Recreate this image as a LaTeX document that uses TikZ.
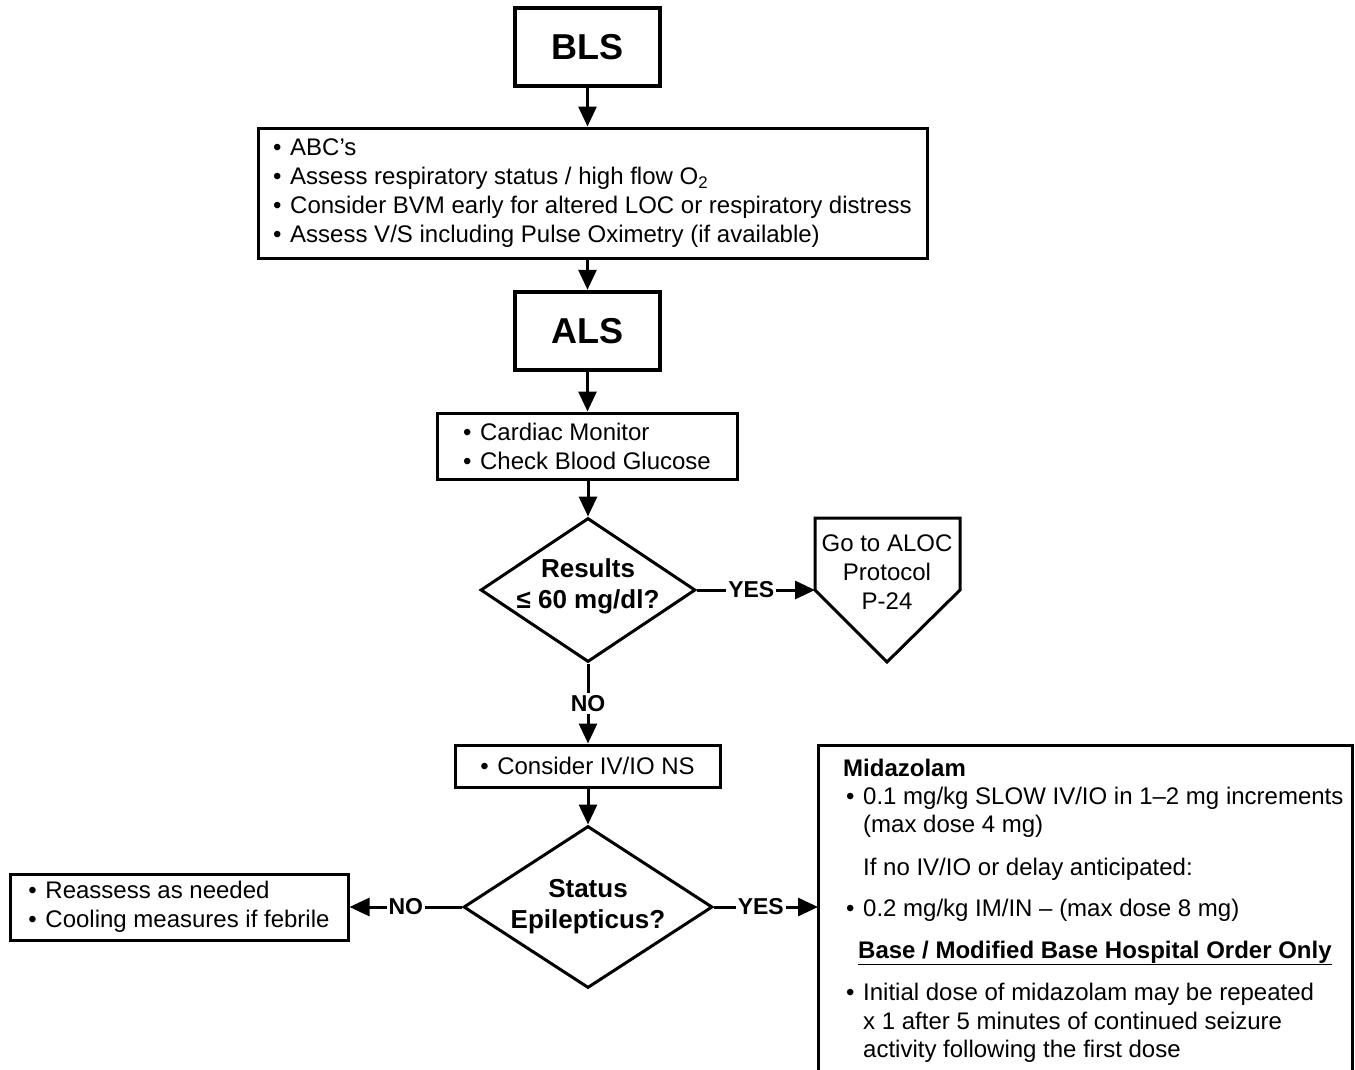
\documentclass[tikz,border=0pt]{standalone}
\usepackage{fontspec}
\setmainfont{Liberation Sans}
\usetikzlibrary{arrows.meta,shapes.geometric}
\newcommand\bul{\makebox[17pt][l]{\textbullet}}
\begin{document}
\begin{tikzpicture}[x=1pt,y=-1pt,
  txt/.style={font=\fontsize{24}{29}\selectfont},
  thickbox/.style={draw, line width=4.5pt, minimum width=145pt, minimum height=78pt,
    inner sep=0pt, font=\bfseries\fontsize{36}{40}\selectfont},
  box/.style={draw, line width=3pt, align=left, inner ysep=4pt, txt},
  decision/.style={draw, diamond, line width=3pt, inner sep=0pt},
  dtext/.style={align=center, font=\bfseries\fontsize{26}{31}\selectfont},
  arr/.style={line width=3pt, -{Triangle[length=20pt,width=18pt]}},
  lab/.style={fill=white, inner sep=2pt, font=\bfseries\fontsize{23}{26}\selectfont},
  mline/.style={inner sep=0pt, anchor=base west, txt}]
\useasboundingbox (0,0) rectangle (1355,1069);
\fill[white] (0,0) rectangle (1355,1069);

\node[thickbox] (bls) at (587.5,47) {BLS};
\node[box, minimum width=669pt, minimum height=130pt] (abc) at (592.5,193)
  {\bul ABC’s\\
   \bul Assess respiratory status / high flow O\textsubscript{2}\\
   \bul Consider BVM early for altered LOC or respiratory distress\\
   \bul Assess V/S including Pulse Oximetry (if available)};
\node[thickbox] (als) at (587.5,331) {ALS};
\node[box, minimum width=300pt, minimum height=66pt] (card) at (587,446)
  {\bul Cardiac Monitor\\ \bul Check Blood Glucose};
\node[decision, minimum width=215pt, minimum height=144pt] (res) at (588,590) {};
\node[dtext] (restext) at (588,586) {Results\\≤ 60 mg/dl?};

\draw[line width=3pt, line join=miter] (815,518) -- (960,518) -- (960,590) -- (887,662) -- (815,590) -- cycle;
\coordinate (alocL) at (815,590);
\node[txt, align=center] (aloc) at (887,572) {Go to ALOC\\Protocol\\P-24};

\node[box, minimum width=265pt, minimum height=42pt] (cons) at (587.5,766)
  {\bul Consider IV/IO NS};
\node[decision, minimum width=249pt, minimum height=162pt] (stat) at (588,907) {};
\node[dtext] (stattext) at (588,907) {Status\\Epilepticus?};

\node[box, minimum width=338pt, minimum height=66pt] (reas) at (179,907)
  {\bul Reassess as needed\\ \bul Cooling measures if febrile};

\draw[line width=3pt] (818,1080) -- (818,745) -- (1352,745) -- (1352,1080);
\coordinate (midL) at (818,907);
\node[mline] (m1) at (843,776) {\bfseries Midazolam};
\node[mline] (m2) at (846,804) {\bul 0.1 mg/kg SLOW IV/IO in 1–2 mg increments};
\node[mline] (m3) at (863,832) {(max dose 4 mg)};
\node[mline] (m4) at (863,875) {If no IV/IO or delay anticipated:};
\node[mline] (m5) at (846,916) {\bul 0.2 mg/kg IM/IN – (max dose 8 mg)};
\node[mline] (m6) at (858,958) {\bfseries\underline{Base / Modified Base Hospital Order Only}};
\node[mline] (m7) at (846,1000) {\bul Initial dose of midazolam may be repeated};
\node[mline] (m8) at (863,1029) {x 1 after 5 minutes of continued seizure};
\node[mline] (m9) at (863,1057) {activity following the first dose};

\draw[arr] (bls.south) -- (bls.south |- abc.north);
\draw[arr] (als.north |- abc.south) -- (als.north);
\draw[arr] (als.south) -- (als.south |- card.north);
\draw[arr] (res.north |- card.south) -- (res.north);
\draw[arr] (res.east) -- node[lab, pos=0.46] {YES} (alocL);
\draw[arr] (res.south) -- node[lab] {NO} (res.south |- cons.north);
\draw[arr] (stat.north |- cons.south) -- (stat.north);
\draw[arr] (stat.west) -- node[lab] {NO} (reas.east);
\draw[arr] (stat.east) -- node[lab, pos=0.45] {YES} (midL);
\end{tikzpicture}
\end{document}
